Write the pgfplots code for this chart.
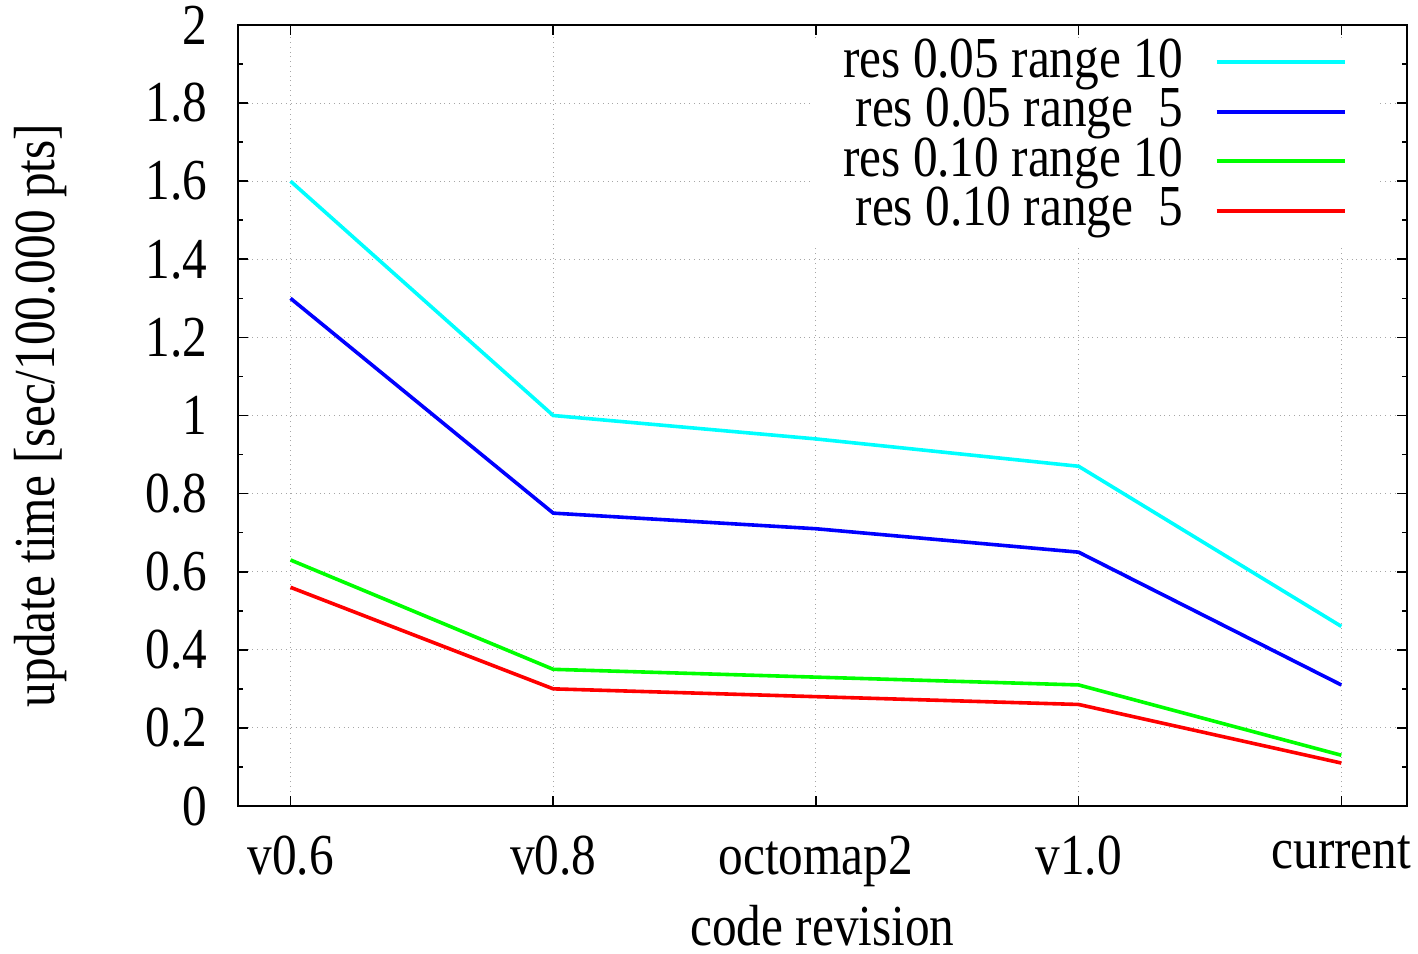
\documentclass[border=0pt]{standalone}
\usepackage{fontspec}
\setmainfont{Liberation Serif}[FakeStretch=0.85]
\usepackage{pgfplots}
\pgfplotsset{compat=1.18}
\definecolor{gpcyan}{RGB}{0,255,255}
\definecolor{gpblue}{RGB}{0,0,255}
\definecolor{gpgreen}{RGB}{0,255,0}
\definecolor{gpred}{RGB}{255,0,0}
\newcommand{\gpfont}{\fontsize{29pt}{34pt}\selectfont}

\begin{document}
\gpfont
\begin{tikzpicture}
\path[use as bounding box] (-119pt,-73.5pt) rectangle (590pt,403pt);
\begin{axis}[
  at={(0,0)}, anchor=south west,
  scale only axis,
  width=584.5pt, height=390.5pt,
  xmin=-0.2, xmax=4.25,
  ymin=0, ymax=2,
  xtick={0,1,2,3,4},
  xticklabels={v0.6,v0.8,octomap2,v1.0,current},
  ytick={0,0.2,...,2.01},
  minor y tick num=1,
  yticklabel style={/pgf/number format/fixed, xshift=-5.5pt},
  xticklabel style={yshift=-5pt},
  /pgf/number format/assume math mode=true,
  tick align=inside,
  major tick length=5pt, minor tick length=2.5pt,
  tick style={black, line width=0.8pt},
  axis line style={black, line width=1pt},
  xmajorgrids, ymajorgrids,
  grid style={gray!70, dotted, line width=0.5pt},
  tick label style={font=\gpfont},
  label style={font=\gpfont},
  xlabel={code revision},
  ylabel={update time [sec/100.000 pts]},
  every axis x label/.style={at={(axis description cs:0.5,-0.178)}, anchor=base,
    inner sep=0pt, text depth=0pt},
  every axis y label/.style={at={(axis description cs:-0.169,0.5)}, rotate=90, anchor=center},
  legend plot pos=right,
  legend cell align=right,
  legend image code/.code={\draw[#1] (0,3pt) -- (64pt,3pt);},
  legend style={at={(0.975,0.982)}, anchor=north east, draw=none, fill=white,
    font=\gpfont,
    inner xsep=15.5pt, inner ysep=2pt,
    nodes={inner sep=0pt, text height=17pt, text depth=7.75pt},
    column sep=16pt},
  every axis plot/.append style={line width=1.8pt},
]
\addplot[gpcyan] coordinates {(0,1.60) (1,1.00) (2,0.94) (3,0.87) (4,0.46)};
\addplot[gpblue] coordinates {(0,1.30) (1,0.75) (2,0.71) (3,0.65) (4,0.31)};
\addplot[gpgreen] coordinates {(0,0.63) (1,0.35) (2,0.33) (3,0.31) (4,0.13)};
\addplot[gpred] coordinates {(0,0.56) (1,0.30) (2,0.28) (3,0.26) (4,0.11)};
\legend{res 0.05 range 10, res 0.05 range\ \ 5, res 0.10 range 10, res 0.10 range\ \ 5}
\end{axis}
\end{tikzpicture}
\end{document}
